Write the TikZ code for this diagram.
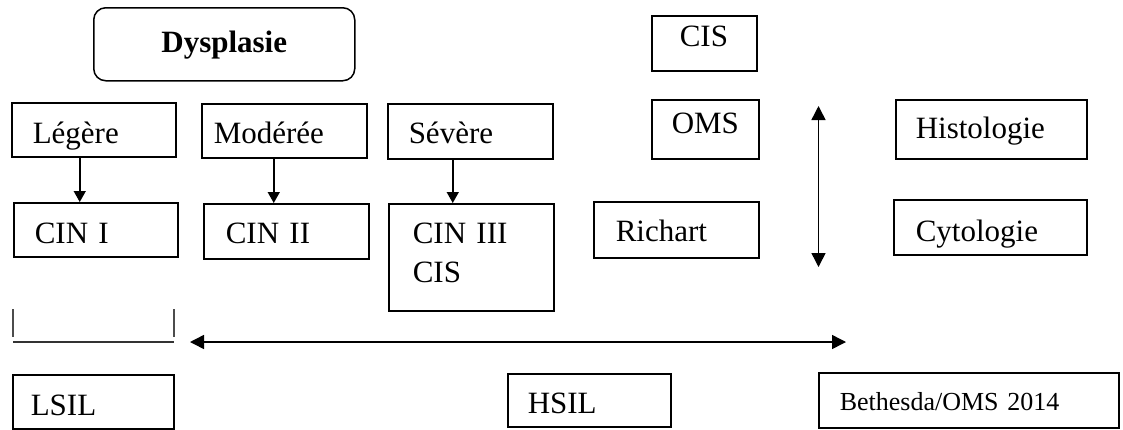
\documentclass[tikz,border=0pt]{standalone}
\usepackage{fontspec}
\setmainfont{Liberation Serif}
\usetikzlibrary{arrows.meta}
\tikzset{
  box/.style={draw=black, line width=1.5pt, rectangle, anchor=north west, inner ysep=0pt, align=left, font=\fontsize{31}{39}\selectfont},
  bx/.style n args={5}{minimum width=#1pt, minimum height=#2pt, inner xsep=#3pt, text width=#4pt, text height=#5pt, text depth=4pt},
  conn/.style={line width=1.5pt, -{Triangle[width=12pt,length=11pt]}},
  dbl/.style={line width=1.5pt, {Triangle[width=14pt,length=14pt]}-{Triangle[width=14pt,length=14pt]}},
  tick/.style={line width=1.3pt, draw=black!70},
}
\begin{document}
\begin{tikzpicture}[x=1pt, y=-1pt]
\useasboundingbox (0,0) rectangle (1123,429);

% title
\node[draw=black, line width=1.5pt, rounded corners=12pt, anchor=north west, inner sep=0pt,
      minimum width=261pt, minimum height=73pt, text height=20.5pt, text depth=4pt,
      font=\fontsize{31}{39}\selectfont\bfseries] (dys) at (93,7) {Dysplasie};

% grades
\node[box, bx={164}{54}{21}{122}{30.5}] (leg) at (11,102) {Légère};
\node[box, bx={165}{54}{12}{141}{28.5}] (mod) at (201,103) {Modérée};
\node[box, bx={165}{55}{21}{123}{27.5}] (sev) at (387,103) {Sévère};

% CIN
\node[box, bx={164}{54}{21}{122}{31.5}] (cin1) at (13,202) {CIN I};
\node[box, bx={165}{55}{22}{121}{28.5}] (cin2) at (203,203) {CIN II};
\node[box, minimum width=165pt, minimum height=107pt, inner xsep=24pt, text width=117pt] (cin3) at (388,203)
  {CIN III\\CIS\rule[-9pt]{0pt}{9pt}};

% OMS column
\node[box, bx={105}{55}{28}{49}{9.5}] (cis) at (651,15) {CIS};
\node[box, bx={107}{59}{20}{67}{11.5}] (oms) at (651,99) {OMS};
\node[box, bx={165}{56}{22}{121}{27.5}] (rich) at (593,201) {Richart};

% right column
\node[box, bx={191}{59}{20}{151}{22.5}] (hist) at (895,99) {Histologie};
\node[box, bx={193}{55}{22}{149}{32.5}] (cyto) at (893,199) {Cytologie};

% bottom row
\node[box, bx={161}{54}{18}{125}{30.5}] (lsil) at (12,374) {LSIL};
\node[box, bx={163}{53}{20}{123}{30.5}] (hsil) at (507,373) {HSIL};
\node[box, bx={300}{55}{21}{258}{24}, font=\fontsize{26}{30}\selectfont] (beth) at (818,372) {Bethesda/OMS 2014};

% arrows grade -> CIN
\draw[conn] ([xshift=-14pt]leg.south) -- ([xshift=-14pt]leg.south |- cin1.north);
\draw[conn] ([xshift=-10.5pt]mod.south) -- ([xshift=-10.5pt]mod.south |- cin2.north);
\draw[conn] ([xshift=-17.5pt]sev.south) -- ([xshift=-17.5pt]sev.south |- cin3.north);

% vertical double arrow
\coordinate (vt) at (818.5,106);
\coordinate (vb) at (818.5,267);
\draw[dbl] (vt) -- (vb);

% horizontal double arrow
\coordinate (hl) at (190,342);
\coordinate (hr) at (846,342);
\draw[dbl] (hl) -- (hr);

% bracket
\coordinate (bl1) at (13,309);
\coordinate (bl2) at (13,337);
\coordinate (br1) at (174,309);
\coordinate (br2) at (174,337);
\coordinate (bhl) at (13,342);
\coordinate (bhr) at (174,342);
\draw[tick] (bl1) -- (bl2);
\draw[tick] (br1) -- (br2);
\draw[line width=1.5pt, draw=black!80] (bhl) -- (bhr);
\end{tikzpicture}
\end{document}
